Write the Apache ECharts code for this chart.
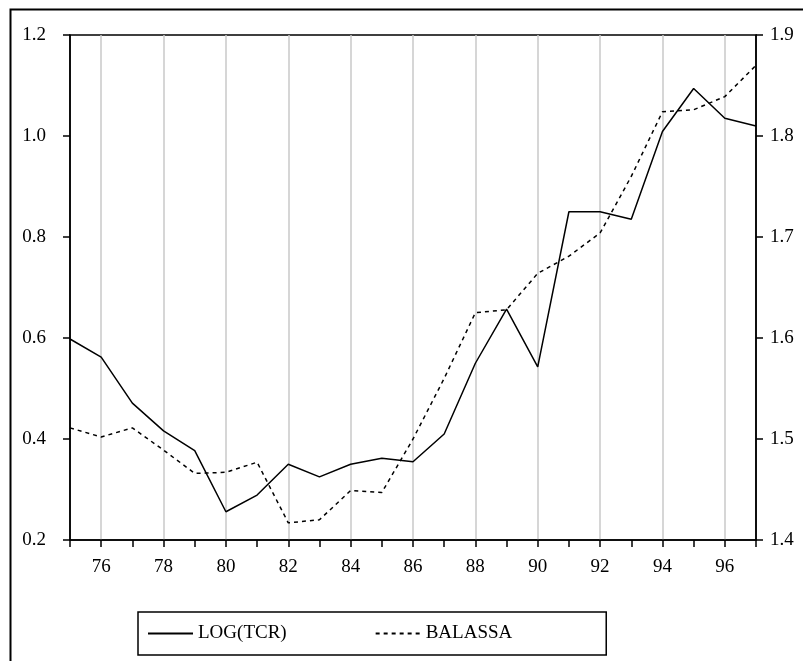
<!DOCTYPE html>
<html>
<head>
<meta charset="utf-8">
<script src="https://cdn.jsdelivr.net/npm/echarts@6/dist/echarts.min.js"></script>
<style>html,body{margin:0;padding:0;background:#fff}#c{width:803px;height:661px}</style>
</head>
<body>
<div id="c"></div>
<script>
var years = ['75','76','77','78','79','80','81','82','83','84','85','86','87','88','89','90','91','92','93','94','95','96','97'];
var logTcr = [0.598, 0.562, 0.471, 0.416, 0.377, 0.256, 0.289, 0.350, 0.325, 0.350, 0.362, 0.355, 0.410, 0.550, 0.657, 0.543, 0.850, 0.850, 0.835, 1.009, 1.094, 1.035, 1.020];
var balassa = [1.511, 1.502, 1.511, 1.489, 1.466, 1.467, 1.477, 1.417, 1.420, 1.449, 1.447, 1.500, 1.560, 1.625, 1.628, 1.664, 1.681, 1.704, 1.760, 1.824, 1.826, 1.839, 1.870];
var seriesNames = ['LOG(TCR)', 'BALASSA'];

var FONT = 'Liberation Serif';
var chart = echarts.init(document.getElementById('c'), null, {renderer: 'canvas'});
chart.setOption({
  animation: false,
  backgroundColor: '#fff',
  graphic: [{
    type: 'rect', left: 8, top: 7, z: -1,
    shape: {width: 794, height: 670},
    style: {fill: 'none', stroke: '#000', lineWidth: 2}
  }],
  grid: {left: 70, top: 35, right: 47, bottom: 121, show: true, borderColor: '#000', borderWidth: 1.5, backgroundColor: 'transparent'},
  legend: {
    data: seriesNames,
    left: 138, top: 612,
    padding: [12, 94, 12, 9],
    itemGap: 88,
    itemWidth: 45, itemHeight: 14,
    itemStyle: {opacity: 0},
    borderColor: '#000', borderWidth: 1.5,
    textStyle: {fontFamily: FONT, fontSize: 19, color: '#000'}
  },
  xAxis: {
    type: 'category', data: years, boundaryGap: false,
    axisLine: {lineStyle: {color: '#000', width: 1.5}},
    axisTick: {show: true, interval: 0, length: 7, lineStyle: {color: '#000', width: 1.5}},
    axisLabel: {interval: function (i) { return i % 2 === 1; }, margin: 18, fontFamily: FONT, fontSize: 19, color: '#000'},
    splitLine: {show: true, interval: function (i) { return i % 2 === 1; }, lineStyle: {color: '#c8c8c8', width: 1.5}}
  },
  yAxis: [{
    type: 'value', min: 0.2, max: 1.2, interval: 0.2, position: 'left',
    axisLine: {show: true, lineStyle: {color: '#000', width: 1.5}},
    axisTick: {show: true, length: 7, lineStyle: {color: '#000', width: 1.5}},
    axisLabel: {margin: 24, fontFamily: FONT, fontSize: 19, color: '#000', formatter: function (v) { return v.toFixed(1); }},
    splitLine: {show: false}
  }, {
    type: 'value', min: 1.4, max: 1.9, interval: 0.1, position: 'right',
    axisLine: {show: true, lineStyle: {color: '#000', width: 1.5}},
    axisTick: {show: true, length: 7, lineStyle: {color: '#000', width: 1.5}},
    axisLabel: {margin: 14, fontFamily: FONT, fontSize: 19, color: '#000', formatter: function (v) { return v.toFixed(1); }},
    splitLine: {show: false}
  }],
  series: [{
    name: seriesNames[0], type: 'line', yAxisIndex: 0, data: logTcr,
    symbol: 'none', itemStyle: {color: '#000'},
    lineStyle: {color: '#000', width: 1.5, type: 'solid'}
  }, {
    name: seriesNames[1], type: 'line', yAxisIndex: 1, data: balassa,
    symbol: 'none', itemStyle: {color: '#000'},
    lineStyle: {color: '#000', width: 1.5, type: [4, 4]}
  }]
});
</script>
</body>
</html>
